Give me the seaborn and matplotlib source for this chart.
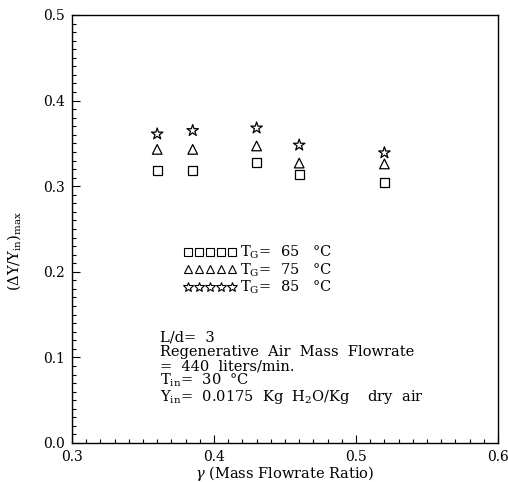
import matplotlib
matplotlib.use("Agg")
import matplotlib.pyplot as plt
from matplotlib.lines import Line2D
from matplotlib.ticker import MultipleLocator
import seaborn as sns
import pandas as pd

# ---- data ----
gamma = [0.36, 0.385, 0.43, 0.46, 0.52]
y_T65 = [0.318, 0.318, 0.328, 0.314, 0.304]
y_T75 = [0.343, 0.343, 0.347, 0.327, 0.326]
y_T85 = [0.361, 0.365, 0.368, 0.348, 0.339]
series_labels = ["T$_{\\mathregular{G}}$=  65   °C", "T$_{\\mathregular{G}}$=  75   °C", "T$_{\\mathregular{G}}$=  85   °C"]
x_ticks = [0.3, 0.4, 0.5, 0.6]
y_ticks = [0.0, 0.1, 0.2, 0.3, 0.4, 0.5]

df = pd.DataFrame({
    "gamma": gamma * 3,
    "val": y_T65 + y_T75 + y_T85,
    "series": [series_labels[0]] * 5 + [series_labels[1]] * 5 + [series_labels[2]] * 5,
})

sns.set_style("ticks")
plt.rcParams["font.family"] = ["DejaVu Serif", "DejaVu Sans"]
plt.rcParams["mathtext.fontset"] = "dejavuserif"
for k in ["text.color", "axes.labelcolor", "xtick.color", "ytick.color", "axes.edgecolor"]:
    plt.rcParams[k] = "black"

fig = plt.figure(figsize=(5.08, 4.82), dpi=100)
ax = fig.add_axes([72 / 508, 39 / 482, 426 / 508, 428 / 482])

markers = {series_labels[0]: "s", series_labels[1]: "^", series_labels[2]: "*"}
sizes = {series_labels[0]: 42, series_labels[1]: 48, series_labels[2]: 75}
for lab in series_labels:
    sub = df[df["series"] == lab]
    sns.scatterplot(data=sub, x="gamma", y="val", marker=markers[lab], s=sizes[lab],
                    facecolor="none", edgecolor="black", linewidth=0.9, ax=ax, legend=False)
for coll in ax.collections:
    coll.set_facecolor("none")
    coll.set_edgecolor("black")

ax.set_xlim(0.3, 0.6)
ax.set_ylim(0.0, 0.5)
ax.set_xticks(x_ticks)
ax.set_yticks(y_ticks)
ax.set_xticklabels([f"{v:.1f}" for v in x_ticks])
ax.set_yticklabels([f"{v:.1f}" for v in y_ticks])
ax.xaxis.set_minor_locator(MultipleLocator(0.01))
ax.yaxis.set_minor_locator(MultipleLocator(0.01))
ax.tick_params(which="both", direction="in", top=False, right=False, labelsize=10, width=0.8)
ax.tick_params(which="major", length=6, pad=5)
ax.tick_params(which="minor", length=3)
for s in ax.spines.values():
    s.set_linewidth(1.0)
    s.set_color("black")

ax.set_xlabel("$\\gamma$ (Mass Flowrate Ratio)", fontsize=10.5, labelpad=0)
ax.set_ylabel("($\\Delta$Y/Y$_{\\mathregular{in}}$)$_{\\mathregular{max}}$", fontsize=10.5)
ax.yaxis.set_label_coords(-0.115, 0.45)

handles = [Line2D([], [], linestyle="none", marker=markers[l], markersize=(6 if l != series_labels[2] else 7.5),
                  markerfacecolor="none", markeredgecolor="black", markeredgewidth=0.8) for l in series_labels]
leg = ax.legend(handles, series_labels, loc="upper left", bbox_to_anchor=(0.262, 0.465),
                frameon=False, numpoints=5, handlelength=3.6, handletextpad=0.25,
                labelspacing=0.0, borderaxespad=0, borderpad=0, fontsize=10.5)

lines = ["L/d=  3",
         "Regenerative  Air  Mass  Flowrate",
         "=  440  liters/min.",
         "T$_{\\mathregular{in}}$=  30  °C",
         "Y$_{\\mathregular{in}}$=  0.0175  Kg  H$_{\\mathregular{2}}$O/Kg    dry  air"]
ys = [0.238, 0.203, 0.170, 0.136, 0.099]
for t, yy in zip(lines, ys):
    ax.text(0.207, yy, t, transform=ax.transAxes, fontsize=10.5, va="baseline", ha="left")

fig.savefig("out.png", dpi=100)
